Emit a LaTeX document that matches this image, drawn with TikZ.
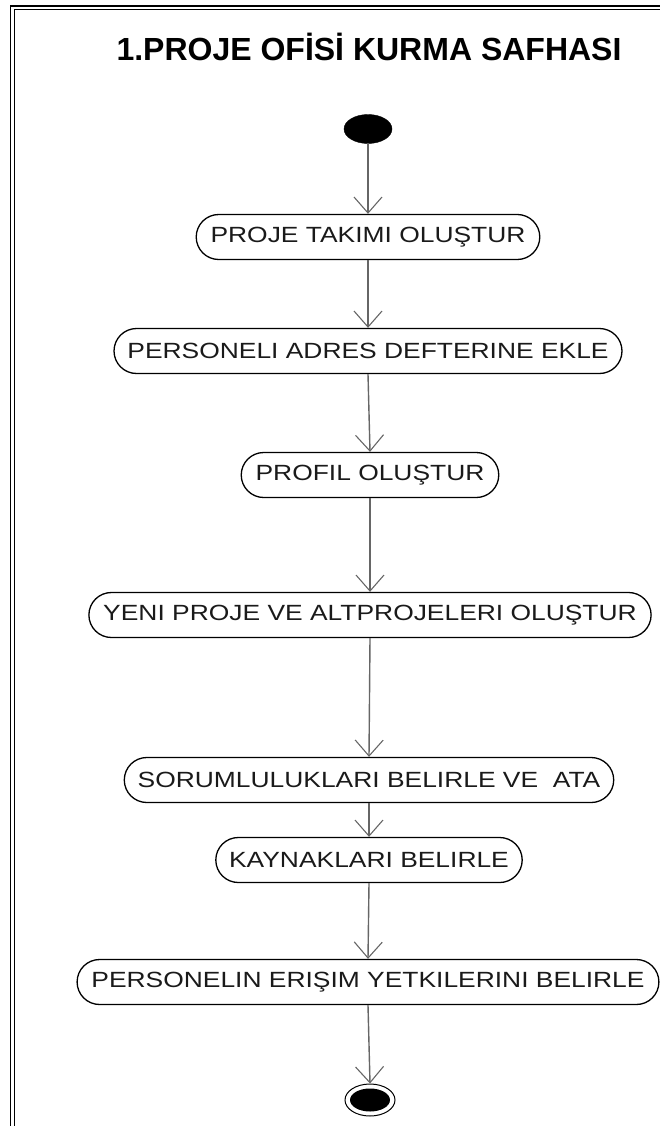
\documentclass[tikz,border=0pt]{standalone}
\usepackage{fontspec}
\setmainfont{Liberation Sans}
\newfontfamily\nodefont[FakeStretch=1.2]{Liberation Sans}
\newfontfamily\titlefont{Liberation Sans}
\usetikzlibrary{arrows.meta,shapes.misc,shapes.geometric}
\definecolor{flowgray}{HTML}{666666}
\definecolor{textdark}{HTML}{1A1A1A}
\tikzset{
  activity/.style={rounded rectangle, draw=black, line width=1.3pt, fill=white,
    minimum height=45pt, inner xsep=12pt, inner ysep=0pt,
    font=\nodefont\fontsize{22}{26}\selectfont, text=textdark},
  flow/.style={draw=flowgray, line width=1.4pt,
    -{Straight Barb[length=16pt,width=28pt,line width=1.1pt]}},
  startdot/.style={ellipse, fill=black, draw=black, minimum width=48pt, minimum height=29pt, inner sep=0pt},
  enddot/.style={ellipse, draw=black, line width=1pt, fill=white, minimum width=50pt, minimum height=32pt, inner sep=0pt},
  frameline/.style={draw=black, line width=1.8pt}
}
\begin{document}
\begin{tikzpicture}[x=1pt,y=-1pt]
  \useasboundingbox (0,0) rectangle (660,1126);
  % frame (double line on top and left)
  \draw[frameline] (660,6) -- (10.5,6) -- (10.5,1126);
  \draw[frameline] (660,9.5) -- (14.5,9.5) -- (14.5,1126);
  % title
  \node (title) at (369,47) {\titlefont\bfseries\fontsize{32}{36}\selectfont 1.PROJE OF\.{I}S\.{I} KURMA SAFHASI};
  % start and end
  \node[startdot] (start) at (368,129) {};
  \node[activity] (n1) at (368,237) {PROJE TAKIMI OLUŞTUR};
  \node[activity] (n2) at (368,351) {PERSONELI ADRES DEFTERINE EKLE};
  \node[activity] (n3) at (370,475) {PROFIL OLUŞTUR};
  \node[activity] (n4) at (370,615) {YENI PROJE VE ALTPROJELERI OLUŞTUR};
  \node[activity] (n5) at (369,780) {SORUMLULUKLARI BELIRLE VE \ ATA};
  \node[activity] (n6) at (369,860) {KAYNAKLARI BELIRLE};
  \node[activity] (n7) at (368,982) {PERSONELIN ERIŞIM YETKILERINI BELIRLE};
  \node[enddot] (stop) at (370,1100) {};
  \node[ellipse, fill=black, minimum width=40pt, minimum height=23pt, inner sep=0pt] (stopcore) at (stop.center) {};
  % control flow
  \draw[flow] (start.south) -- (n1.north);
  \draw[flow] (n1.south) -- (n2.north);
  \draw[flow] (n2.south) -- (n3.north);
  \draw[flow] (n3.south) -- (n4.north);
  \draw[flow] (n4.south) -- (n5.north);
  \draw[flow] (n5.south) -- (n6.north);
  \draw[flow] (n6.south) -- (n7.north);
  \draw[flow] (n7.south) -- (stop.north);
\end{tikzpicture}
\end{document}
